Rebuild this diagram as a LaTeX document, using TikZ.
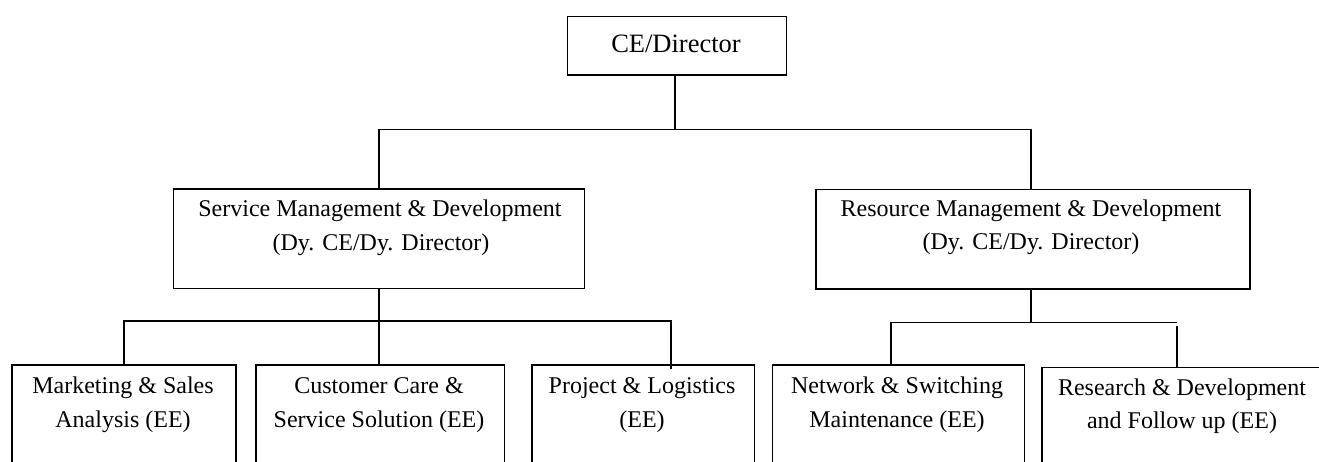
\documentclass[tikz,border=0pt]{standalone}
\usepackage{fontspec}
\setmainfont{Liberation Serif}
\begin{document}
\begin{tikzpicture}[x=1pt,y=1pt,
  box/.style={draw, line width=1.5pt, inner sep=0pt, anchor=north west, fill=white},
  lbl/.style={anchor=base, inner sep=0pt, font=\fontsize{24}{30}\selectfont},
  conn/.style={line width=1.5pt}]
\useasboundingbox (0,0) rectangle (1319,-461);
\clip (0,0) rectangle (1319,-461);
% boxes
\node[box, minimum width=219pt, minimum height=58.6pt] (ce) at (566.7,-15.7) {};
\node[box, minimum width=411pt, minimum height=99.4pt] (svc) at (172.7,-188.3) {};
\node[box, minimum width=434.3pt, minimum height=99.3pt] (res) at (815,-188.7) {};
\node[box, minimum width=224.3pt, minimum height=120pt] (mkt) at (11,-364) {};
\node[box, minimum width=248.5pt, minimum height=120pt] (cus) at (255,-364.3) {};
\node[box, minimum width=222.7pt, minimum height=120pt] (prj) at (531,-364.3) {};
\node[box, minimum width=252pt, minimum height=120pt] (net) at (771.5,-364.3) {};
\node[box, minimum width=290pt, minimum height=120pt] (rsd) at (1041.4,-366.7) {};
% texts
\node[lbl, font=\fontsize{26.5}{30}\selectfont] (tce) at (676,-52.7) {CE/Director};
\node[lbl] (tsvc1) at (380,-216) {Service Management \& Development};
\node[lbl] (tsvc2) at (381,-250) {(Dy. CE/Dy. Director)};
\node[lbl] (tres1) at (1031,-216) {Resource Management \& Development};
\node[lbl] (tres2) at (1031,-249.5) {(Dy. CE/Dy. Director)};
\node[lbl] (tmkt1) at (123,-393.5) {Marketing \& Sales};
\node[lbl] (tmkt2) at (123,-427) {Analysis (EE)};
\node[lbl] (tcus1) at (379,-393.5) {Customer Care \&};
\node[lbl] (tcus2) at (379,-427) {Service Solution (EE)};
\node[lbl] (tprj1) at (642,-393.5) {Project \& Logistics};
\node[lbl] (tprj2) at (642,-427) {(EE)};
\node[lbl] (tnet1) at (897,-393.5) {Network \& Switching};
\node[lbl] (tnet2) at (897,-427) {Maintenance (EE)};
\node[lbl] (trsd1) at (1182,-395) {Research \& Development};
\node[lbl] (trsd2) at (1182,-428) {and Follow up (EE)};
% connector junctions
\coordinate (j0) at (675,-129.5);
\coordinate (jL) at (379,-129.5);
\coordinate (jR) at (1031,-129.5);
\coordinate (b1) at (379,-321);
\coordinate (b1r) at (671,-321);
\coordinate (b2) at (1031,-322.5);
\coordinate (b2l) at (891,-322.5);
\coordinate (b2r) at (1177,-322.5);
% connectors
\draw[conn] (ce.south -| j0) -- (j0);
\draw[conn] (svc.north -| jL) |- (jR) -- (res.north -| jR);
\draw[conn] (svc.south -| b1) -- (b1);
\draw[conn] (mkt.north) |- (b1) -- (cus.north -| b1);
\draw[conn] (b1) -- (b1r) -- ([yshift=-5pt]prj.north -| b1r);
\draw[conn] (res.south -| b2) -- (b2);
\draw[conn] (net.north -| b2l) |- (b2) -- (b2r);
\draw[conn] ([yshift=-3.5pt]b2r) -- (rsd.north -| b2r);
\end{tikzpicture}
\end{document}
